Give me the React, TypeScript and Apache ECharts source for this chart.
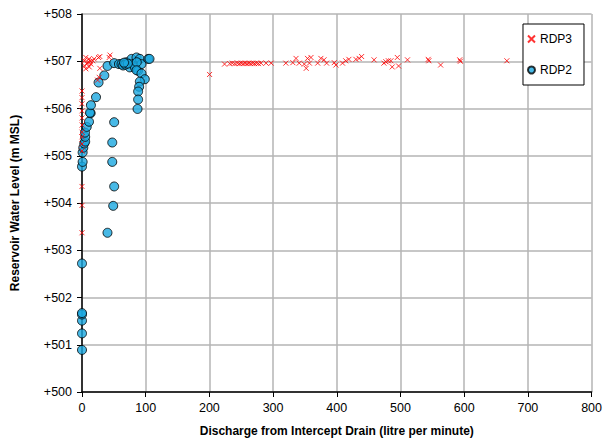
import React, { useEffect, useRef } from "react";
import * as echarts from "echarts";

const xTicks = [0, 100, 200, 300, 400, 500, 600, 700, 800];
const yTicks = [500, 501, 502, 503, 504, 505, 506, 507, 508];

// RDP3 (red crosses): [discharge, level]
const rdp3: [number, number][] = [
  [0, 506.37], [0, 506.23], [0, 506.1], [0, 505.95], [0, 505.8], [0, 505.65],
  [0, 505.5], [0, 505.4], [0, 505.25], [0, 505.1], [0, 504.35], [0, 503.95], [0, 503.37],
  [3.6, 507.01], [6, 507.08], [9, 506.98], [11, 507.05], [14, 506.94], [11.4, 506.88],
  [6, 506.84], [17, 507.01], [19, 507.05], [8, 506.95], [13, 507.0], [4, 506.9],
  [26, 507.08], [28, 507.1], [42.7, 507.08], [44, 507.13], [28, 506.85],
  [27, 506.66], [24.5, 506.6],
  [200.3, 506.72], [223.8, 506.94], [232, 506.95], [236, 506.96], [240, 506.95],
  [244, 506.96], [247, 506.95], [250, 506.96], [253, 506.95], [256, 506.96],
  [259, 506.95], [262, 506.96], [265, 506.95], [268, 506.96], [271, 506.95],
  [274, 506.96], [277, 506.95], [281, 506.96], [289, 506.96], [297, 506.96],
  [320, 506.96], [331, 506.97], [336, 507.06], [341, 506.96], [349, 506.94],
  [352, 506.85], [354, 507.06], [357, 506.96], [359.5, 507.08], [370, 506.96],
  [375, 507.06], [380, 507.03], [384, 506.96], [396, 506.97], [398.6, 506.92],
  [409, 506.96], [414, 507.01], [419, 507.04], [430, 507.04], [435, 507.06],
  [439, 507.1], [458.5, 507.03], [474, 506.96], [477, 506.99], [481, 507.01],
  [485, 507.01], [487, 506.88], [495, 507.08], [497, 506.9], [511, 507.03],
  [543.5, 507.04], [544.6, 507.01], [563, 506.92], [593, 507.03], [594, 507.0],
  [667, 507.01],
];

// RDP2 (blue circles): [discharge, level]
const rdp2: [number, number][] = [
  [0, 500.89], [0, 501.24], [0, 501.51], [0, 501.64], [0, 501.67], [0, 502.72],
  [0, 504.77], [1, 504.87], [1, 505.07], [2, 505.17], [3.5, 505.26], [5, 505.3],
  [5, 505.4], [4.7, 505.49], [7.4, 505.61], [11, 505.72], [13.6, 505.9],
  [12.5, 505.91], [14, 506.07], [22, 506.24], [26, 506.55], [35, 506.7],
  [40, 506.9], [50.5, 506.96], [58, 506.94],
  [40, 503.37], [49, 503.94], [50.5, 504.35], [47.5, 504.87], [47.5, 505.28], [50.5, 505.71],
  [62, 506.94], [64.6, 506.91], [70, 506.98], [75, 506.87], [77.8, 507.05],
  [80, 506.94], [83, 506.87], [85.6, 507.08], [88, 506.8], [90.8, 507.05],
  [93.4, 506.94], [68, 506.93], [72, 506.95], [66, 506.97], [86, 506.98],
  [104, 507.05], [106, 507.05], [85.6, 506.81], [93.4, 506.74], [98.6, 506.62],
  [90.8, 506.57], [89.7, 506.46], [88.1, 506.36], [88.1, 506.19], [87.2, 505.99],
];

const font = "Liberation Sans, Arial, sans-serif";

export default function App() {
  const ref = useRef<HTMLDivElement>(null);
  useEffect(() => {
    if (!ref.current) return;
    const chart = echarts.init(ref.current, undefined, { renderer: "svg" });
    chart.setOption({
      animation: false,
      backgroundColor: "#ffffff",
      textStyle: { fontFamily: font },
      grid: { left: 82, right: 12, top: 14, bottom: 51, containLabel: false },
      legend: {
        orient: "vertical",
        right: 21,
        top: 24,
        backgroundColor: "#ffffff",
        borderColor: "#000000",
        borderWidth: 1,
        borderRadius: 0,
        padding: [9, 12, 9, 4],
        itemGap: 19,
        itemWidth: 7,
        itemHeight: 7,
        textStyle: { fontFamily: font, fontSize: 12, color: "#000" },
        data: ["RDP3", "RDP2"],
      },
      xAxis: {
        type: "value",
        min: xTicks[0],
        max: xTicks[xTicks.length - 1],
        interval: 100,
        name: "Discharge from Intercept Drain (litre per minute)",
        nameLocation: "middle",
        nameGap: 33,
        nameTextStyle: { fontFamily: font, fontSize: 12, fontWeight: "bold", color: "#000" },
        axisLine: { show: true, onZero: false, lineStyle: { color: "#000", width: 1.5 } },
        axisTick: { show: true, length: 5, lineStyle: { color: "#000" } },
        axisLabel: { fontFamily: font, fontSize: 12.5, color: "#000", margin: 9 },
        splitLine: { show: true, lineStyle: { color: "#b4b4b4", width: 1.5 } },
      },
      yAxis: {
        type: "value",
        min: yTicks[0],
        max: yTicks[yTicks.length - 1],
        interval: 1,
        name: "Reservoir Water Level (m MSL)",
        nameLocation: "middle",
        nameGap: 61,
        nameTextStyle: { fontFamily: font, fontSize: 12, fontWeight: "bold", color: "#000" },
        axisLine: { show: true, onZero: false, lineStyle: { color: "#000", width: 1.5 } },
        axisTick: { show: true, length: 5, lineStyle: { color: "#000" } },
        axisLabel: {
          fontFamily: font,
          fontSize: 12.5,
          color: "#000",
          margin: 10,
          formatter: (v: number) => "+" + v,
        },
        splitLine: { show: true, lineStyle: { color: "#b4b4b4", width: 1.5 } },
      },
      series: [
        {
          name: "RDP3",
          type: "scatter",
          data: rdp3,
          symbol: "path://M0,0L10,10M10,0L0,10",
          symbolSize: 5,
          itemStyle: { color: "#ff0000", borderColor: "#ff0000", borderWidth: 1 },
          z: 3,
        },
        {
          name: "RDP2",
          type: "scatter",
          data: rdp2,
          symbol: "circle",
          symbolSize: 9,
          itemStyle: { color: "#1aa7e0", borderColor: "#000000", borderWidth: 1 },
          z: 2,
        },
      ],
    });
    return () => chart.dispose();
  }, []);
  return (
    <div
      ref={ref}
      style={{ position: "absolute", left: 0, top: 0, width: 605, height: 443 }}
    />
  );
}
